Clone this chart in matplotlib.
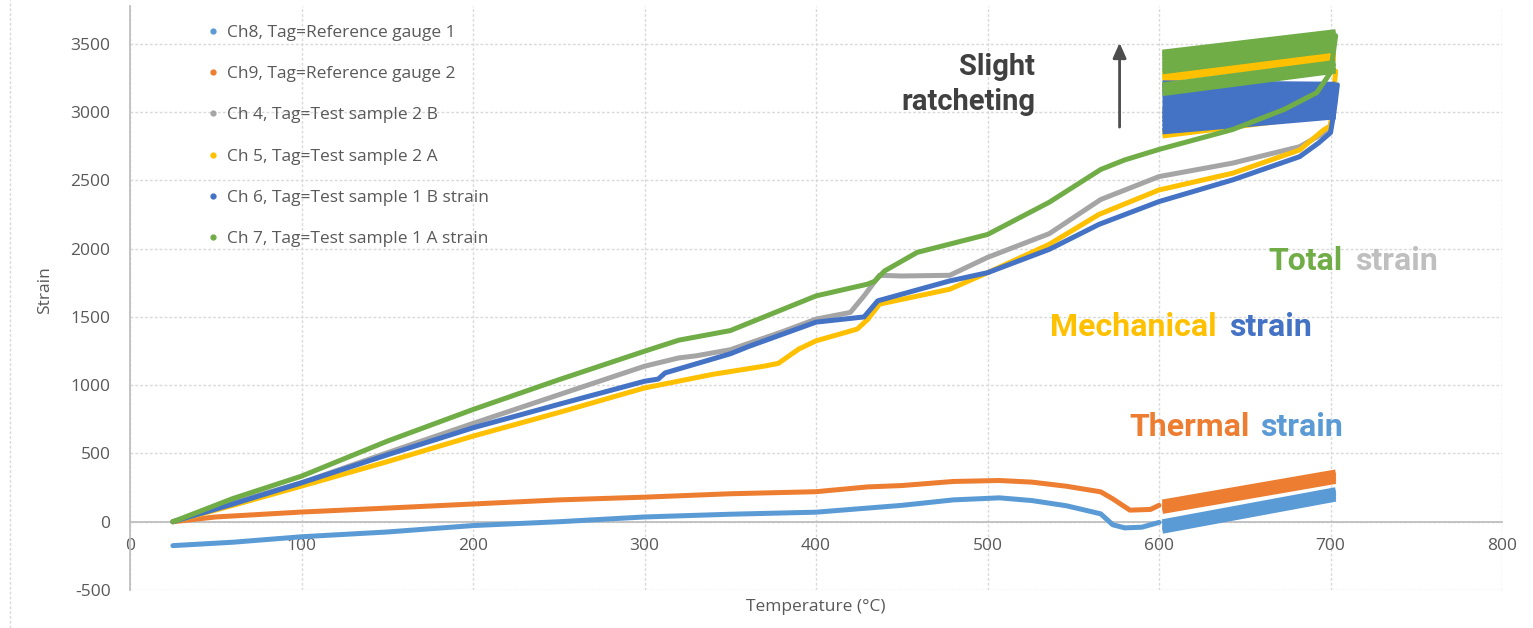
import matplotlib
matplotlib.use("Agg")
import matplotlib.pyplot as plt
from matplotlib.lines import Line2D

plt.rcParams['font.family'] = ['Open Sans', 'DejaVu Sans']
plt.rcParams['axes.unicode_minus'] = False

# Heating ramp (temperature degC -> strain)
ch8_t = [25, 60, 100, 150, 200, 250, 300, 350, 400, 450, 480, 507, 526, 546, 566, 573, 580, 590, 600]
ch8_s = [-175, -150, -110, -75, -28, 0, 35, 55, 70, 120, 160, 175, 155, 117, 58, -22, -45, -40, -5]

ch9_t = [25, 50, 100, 150, 200, 250, 300, 350, 400, 430, 450, 480, 507, 526, 546, 566, 573, 583, 595, 600]
ch9_s = [0, 35, 71, 100, 130, 160, 180, 205, 220, 255, 265, 295, 302, 290, 260, 219, 168, 85, 90, 120]

ch4_t = [25, 60, 100, 150, 200, 250, 300, 320, 330, 350, 380, 400, 420, 428, 437, 450, 478, 500, 536, 566, 600, 643, 682, 696, 700, 703]
ch4_s = [0, 140, 285, 505, 720, 930, 1139, 1200, 1215, 1260, 1390, 1484, 1533, 1654, 1805, 1800, 1805, 1936, 2110, 2360, 2528, 2627, 2747, 2846, 2900, 3100]

ch5_t = [25, 60, 100, 150, 200, 250, 300, 340, 370, 378, 390, 400, 424, 430, 437, 478, 500, 536, 565, 600, 643, 682, 696, 700, 703]
ch5_s = [0, 120, 261, 440, 627, 800, 980, 1080, 1140, 1160, 1265, 1325, 1411, 1480, 1594, 1703, 1824, 2032, 2251, 2430, 2553, 2723, 2870, 2900, 3300]

ch6_t = [25, 60, 100, 150, 200, 250, 300, 308, 312, 350, 361, 400, 428, 436, 478, 500, 536, 565, 600, 643, 682, 693, 700, 702, 704]
ch6_s = [0, 130, 285, 490, 688, 860, 1029, 1045, 1090, 1230, 1285, 1462, 1500, 1618, 1764, 1824, 1995, 2178, 2345, 2504, 2674, 2774, 2850, 3000, 3200]

ch7_t = [25, 60, 100, 150, 200, 250, 300, 320, 350, 400, 430, 434, 440, 459, 480, 500, 536, 566, 580, 600, 643, 673, 692, 700, 703]
ch7_s = [0, 170, 334, 590, 822, 1040, 1249, 1330, 1400, 1654, 1740, 1760, 1837, 1973, 2040, 2104, 2340, 2580, 2650, 2727, 2873, 3020, 3143, 3290, 3560]

# Thermal cycles 600-700 degC: strain at start / end of each cycle line
cyc_t = [602, 703]
ch8_cyc_start = [-65, -45, -25, -5]
ch8_cyc_end = [170, 190, 210, 230]
ch9_cyc_start = [80, 100, 120, 140]
ch9_cyc_end = [300, 320, 340, 360]
ch4_cyc_start = [2950, 2990, 3010]
ch4_cyc_end = [3080, 3100, 3120]
ch5_cyc_start = [2830, 2850, 3240, 3260, 3280]
ch5_cyc_end = [2990, 3010, 3400, 3420, 3440]
ch6_cyc_start = [2860, 2890, 2920, 2950, 2980, 3020, 3060, 3100, 3140, 3180, 3210]
ch6_cyc_end = [2970, 2990, 3010, 3030, 3060, 3090, 3120, 3140, 3165, 3185, 3200]
ch7_cyc_start = [3140, 3165, 3195, 3300, 3325, 3350, 3375, 3400, 3420, 3435]
ch7_cyc_end = [3305, 3330, 3360, 3460, 3485, 3510, 3535, 3555, 3570, 3585]

labels = ["Ch8, Tag=Reference gauge 1", "Ch9, Tag=Reference gauge 2",
          "Ch 4, Tag=Test sample 2 B", "Ch 5, Tag=Test sample 2 A",
          "Ch 6, Tag=Test sample 1 B strain", "Ch 7, Tag=Test sample 1 A strain"]
colors = ["#5B9BD5", "#ED7D31", "#A5A5A5", "#FFC000", "#4472C4", "#70AD47"]

series = [
    (ch8_t, ch8_s, ch8_cyc_start, ch8_cyc_end),
    (ch9_t, ch9_s, ch9_cyc_start, ch9_cyc_end),
    (ch4_t, ch4_s, ch4_cyc_start, ch4_cyc_end),
    (ch5_t, ch5_s, ch5_cyc_start, ch5_cyc_end),
    (ch6_t, ch6_s, ch6_cyc_start, ch6_cyc_end),
    (ch7_t, ch7_s, ch7_cyc_start, ch7_cyc_end),
]

fig = plt.figure(figsize=(15.33, 6.28), dpi=100)
ax = fig.add_axes([0.0848, 0.0605, 0.895, 0.9305])

txt_gray = "#595959"
grid_c = "#D9D9D9"

for (t, s, cs, ce), c in zip(series, colors):
    ax.plot(t, s, color=c, lw=3.6, solid_capstyle='round', solid_joinstyle='round', zorder=3)
    for a, b in zip(cs, ce):
        ax.plot(cyc_t, [a, b], color=c, lw=4.5, solid_capstyle='butt', zorder=3)

ax.set_xlim(0, 800)
ax.set_ylim(-500, 3780)
ax.set_xticks(range(0, 801, 100))
ax.set_yticks(range(-500, 3501, 500))

ax.grid(True, color=grid_c, linestyle=(0, (2, 1.5)), linewidth=1.0, zorder=0)
ax.set_axisbelow(True)

for side in ['top', 'right']:
    ax.spines[side].set_visible(False)
ax.spines['bottom'].set_position(('data', 0))
ax.spines['bottom'].set_color("#BFBFBF")
ax.spines['left'].set_color("#BFBFBF")
ax.spines['bottom'].set_linewidth(1.3)
ax.spines['left'].set_linewidth(1.3)

ax.tick_params(axis='x', length=0, pad=12, labelsize=12.5, labelcolor=txt_gray)
ax.tick_params(axis='y', length=0, pad=14, labelsize=12.5, labelcolor=txt_gray)

ax.set_xlabel("Temperature (°C)", fontsize=12.5, color=txt_gray)
ax.set_ylabel("Strain", fontsize=12.5, color=txt_gray)
ax.xaxis.set_label_coords(0.5, -0.015)
ax.yaxis.set_label_coords(-0.056, 0.513)

handles = [Line2D([], [], marker='o', ls='none', markersize=3.5, color=c) for c in colors]
ax.legend(handles, labels, loc='upper left', bbox_to_anchor=(199 / 1533, 1 - 16 / 628),
          bbox_transform=fig.transFigure, frameon=False, fontsize=12.5,
          labelcolor=txt_gray, labelspacing=1.45, handlelength=0.6,
          handletextpad=0.5, borderpad=0)

# annotations
ann = dict(fontsize=21, fontweight='bold', family='Roboto', va='baseline')
ax.text(527.7, 3273, "Slight", ha='right', color="#404040", **ann)
ax.text(527.7, 3017, "ratcheting", ha='right', color="#404040", **ann)
ax.annotate("", xy=(577, 3528), xytext=(577, 2870),
            arrowprops=dict(arrowstyle='-|>,head_width=0.4,head_length=0.9',
                            color="#4D4D4D", lw=2))

ann2 = dict(fontsize=23, fontweight='bold', family='Roboto', va='baseline')
ax.text(707.3, 1847, "Total", ha='right', color="#70AD47", **ann2)
ax.text(714.3, 1847, "strain", ha='left', color="#BFBFBF", **ann2)
ax.text(633.8, 1357, "Mechanical", ha='right', color="#FFC000", **ann2)
ax.text(640.8, 1357, "strain", ha='left', color="#4472C4", **ann2)
ax.text(653.0, 626, "Thermal", ha='right', color="#ED7D31", **ann2)
ax.text(659.0, 626, "strain", ha='left', color="#5B9BD5", **ann2)

# faint outer chart border on the left
fig.add_artist(Line2D([10 / 1533, 10 / 1533], [0, 1], transform=fig.transFigure,
                      color=grid_c, ls=(0, (2, 1.5)), lw=1))

fig.savefig("out.png", dpi=100)
